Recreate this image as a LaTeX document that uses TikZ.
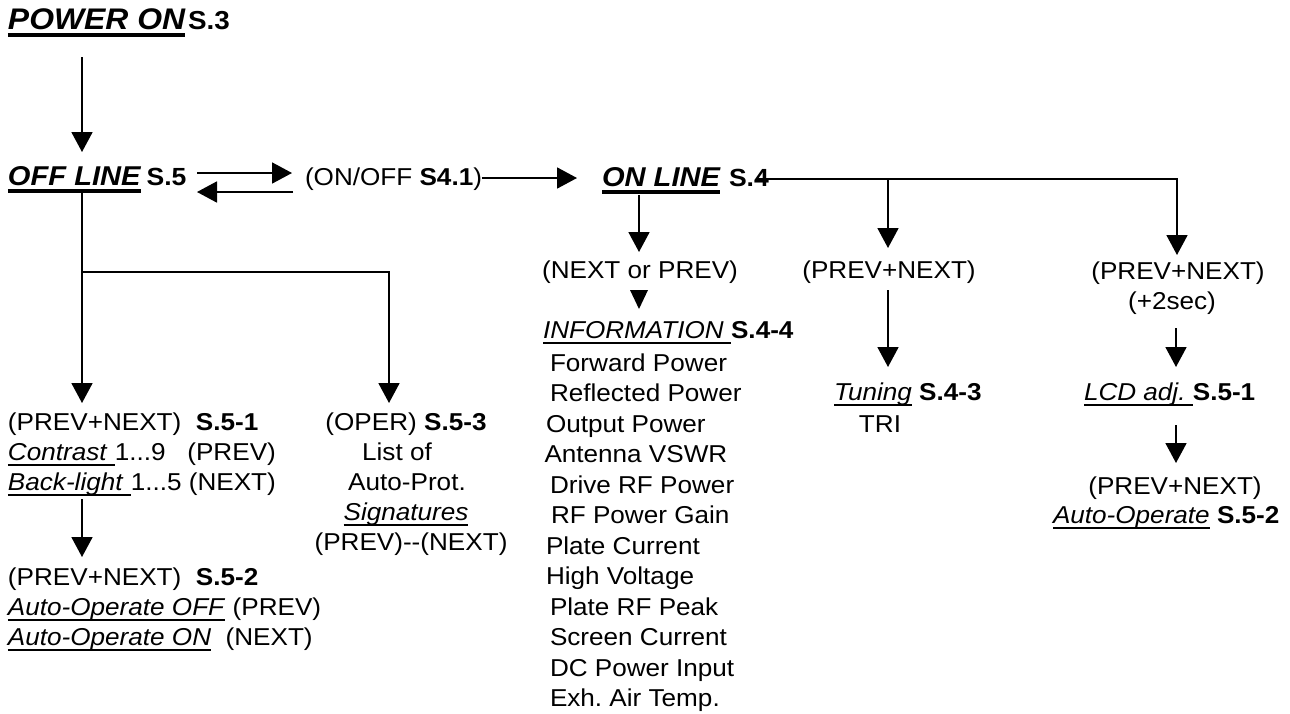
\documentclass[tikz,border=0pt]{standalone}
\usepackage{fontspec}
\setmainfont{Liberation Sans}[FakeStretch=1.07]
\usetikzlibrary{arrows.meta}
\frenchspacing
\newcommand\nf{\fontsize{12.2}{15}\selectfont}
\newcommand\titA{\fontsize{14.9}{18}\selectfont\bfseries\itshape}
\newcommand\titB{\fontsize{13.6}{17}\selectfont\bfseries\itshape}
\newcommand\slab{\fontsize{12.4}{15}\selectfont\bfseries}
\newcommand\ulN[1]{\setbox0=\hbox{#1}\rlap{\rule[-2.9pt]{\wd0}{0.9pt}}\box0\relax}
\newcommand\ulT[1]{\setbox0=\hbox{#1}\rlap{\rule[-3.9pt]{\wd0}{1.8pt}}\box0\relax}
\tikzset{
  txt/.style={inner sep=0pt, outer sep=0pt, font=\nf, anchor=base west},
  ctxt/.style={txt, anchor=base},
  arr/.style={line width=0.9pt, -{Triangle[length=10pt,width=10.5pt]}},
  ln/.style={line width=0.9pt}
}
\begin{document}
\begin{tikzpicture}[x=0.5pt,y=-0.5pt]
\useasboundingbox (0,0) rectangle (1290,713);
\fill[white] (0,0) rectangle (1290,713);
% ---- titles
\node[txt] (pon) at (8,29) {{\titA\ulT{POWER ON}}\hspace{1.5pt}{\fontsize{13}{15}\selectfont\bfseries S.3}};
\node[txt] (offl) at (8,185) {{\titB\ulT{OFF LINE}}\hspace{3pt}{\slab S.5}};
\node[txt] (onoff) at (305,185) {(ON/OFF \textbf{S4.1})};
\node[txt] (onl) at (602,186) {{\titB\ulT{ON LINE}}\hspace{4.5pt}{\slab S.4}};
% ---- on-line branches
\node[ctxt] (np) at (640,278) {(NEXT or PREV)};
\node[txt] (info) at (543,338) {\ulN{\textit{INFORMATION}\ }\textbf{S.4-4}};
\node[txt] (i1) at (550,371) {Forward Power};
\node[txt] (i2) at (550,401.5) {Reflected Power};
\node[txt] (i3) at (546,432) {Output Power};
\node[txt] (i4) at (544.5,462.5) {Antenna VSWR};
\node[txt] (i5) at (550,493) {Drive RF Power};
\node[txt] (i6) at (551,523.5) {RF Power Gain};
\node[txt] (i7) at (546,554) {Plate Current};
\node[txt] (i8) at (546,584.5) {High Voltage};
\node[txt] (i9) at (550,615) {Plate RF Peak};
\node[txt] (i10) at (550,645.5) {Screen Current};
\node[txt] (i11) at (550,676) {DC Power Input};
\node[txt] (i12) at (550,706.5) {Exh. Air Temp.};
\node[ctxt] (pn1) at (889,278) {(PREV+NEXT)};
\node[txt] (tun) at (834,400) {\ulN{\textit{Tuning}} \textbf{S.4-3}};
\node[ctxt] (tri) at (880,432) {TRI};
\node[ctxt] (pn2) at (1178,279) {(PREV+NEXT)};
\node[ctxt] (sec) at (1172,309) {(+2sec)};
\node[txt] (lcd) at (1084,400) {\ulN{\textit{LCD adj.}\ }\textbf{S.5-1}};
\node[ctxt] (pn3) at (1175,494) {(PREV+NEXT)};
\node[txt] (ao) at (1053,523) {\ulN{\textit{Auto-Operate}} \textbf{S.5-2}};
% ---- off-line branches
\node[txt] (l1) at (8,430) {(PREV+NEXT)\ \ \textbf{S.5-1}};
\node[txt] (l2) at (8,460) {\ulN{\textit{Contrast}\ }1...9\ \ \ (PREV)};
\node[txt] (l3) at (8,490) {\ulN{\textit{Back-light}\ }1...5 (NEXT)};
\node[txt] (l4) at (8,585) {(PREV+NEXT)\ \ \textbf{S.5-2}};
\node[txt] (l5) at (8,615) {\ulN{\textit{Auto-Operate OFF}} (PREV)};
\node[txt] (l6) at (8,645) {\ulN{\textit{Auto-Operate ON}}\ \ (NEXT)};
\node[ctxt] (o1) at (406,430) {(OPER) \textbf{S.5-3}};
\node[ctxt] (o2) at (397,460) {List of};
\node[ctxt] (o3) at (407,490) {Auto-Prot.};
\node[ctxt] (o4) at (406,520) {\ulN{\textit{Signatures}}};
\node[ctxt] (o5) at (411,550) {(PREV)-\kern0pt-(NEXT)};
% ---- connector end points
\coordinate (a1s) at (82,57);    \coordinate (a1e) at (82,152);
\coordinate (d1s) at (197,173);  \coordinate (d1e) at (292,173);
\coordinate (d2s) at (293,192);  \coordinate (d2e) at (197,192);
\coordinate (a2e) at (577,178);
\coordinate (b0) at (757,179);   \coordinate (b3e) at (1177,255);
\coordinate (b2s) at (888,179);  \coordinate (b2e) at (888,248);
\coordinate (b1s) at (639,195);  \coordinate (b1e) at (639,252);
\coordinate (t1s) at (888,290);  \coordinate (t1e) at (888,367);
\coordinate (r1s) at (1176,328); \coordinate (r1e) at (1176,367);
\coordinate (r2s) at (1176,425); \coordinate (r2e) at (1176,463);
\coordinate (f0) at (82,193);    \coordinate (f1e) at (82,403);
\coordinate (fj) at (82,272);    \coordinate (f2e) at (389,403);
\coordinate (g1s) at (82,499);   \coordinate (g1e) at (82,557);
% ---- connectors
\draw[arr] (a1s) -- (a1e);
\draw[arr] (d1s) -- (d1e);
\draw[arr] (d2s) -- (d2e);
\draw[arr] (onoff.east |- a2e) -- (a2e);
\draw[arr] (b0) -| (b3e);
\draw[arr] (b2s) -- (b2e);
\draw[arr] (b1s) -- (b1e);
\fill (630,290) -- (648,290) -- (639,309) -- cycle;
\draw[arr] (t1s) -- (t1e);
\draw[arr] (r1s) -- (r1e);
\draw[arr] (r2s) -- (r2e);
\draw[arr] (f0) -- (f1e);
\draw[arr] (fj) -| (f2e);
\draw[arr] (g1s) -- (g1e);
\end{tikzpicture}
\end{document}
